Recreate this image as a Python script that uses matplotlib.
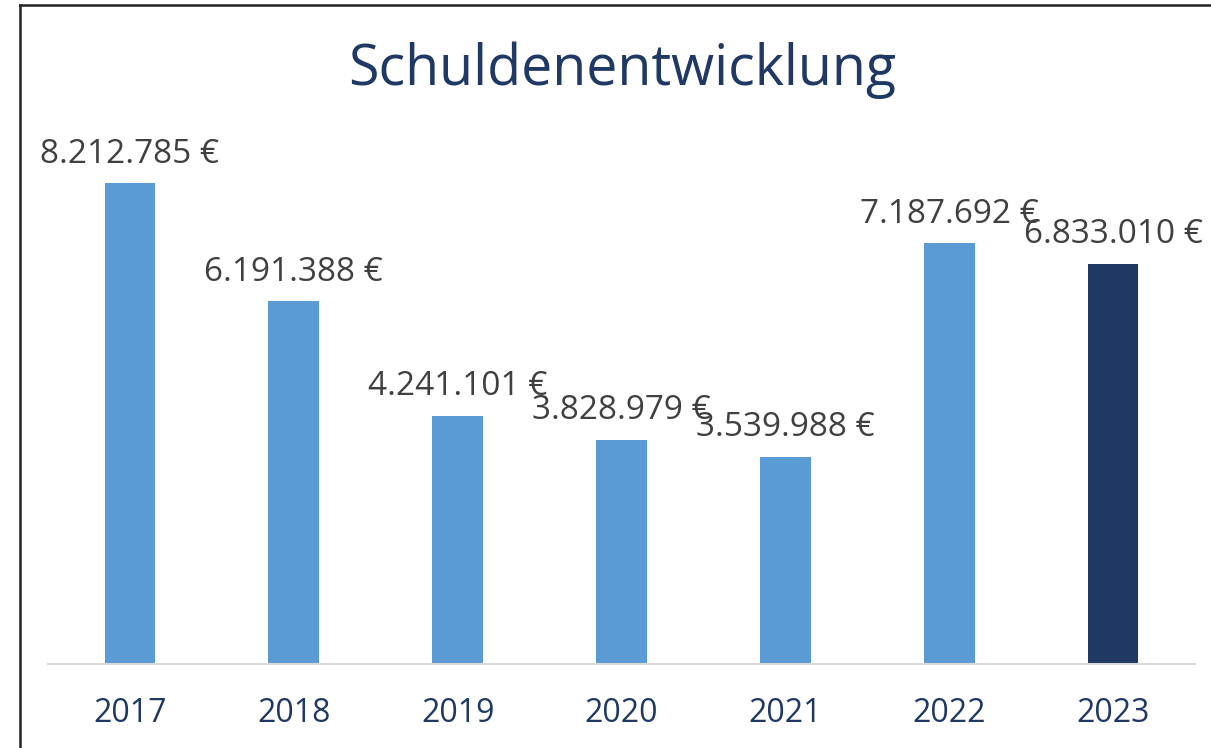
import matplotlib
matplotlib.use("Agg")
import matplotlib.pyplot as plt
from matplotlib.lines import Line2D

years = ["2017", "2018", "2019", "2020", "2021", "2022", "2023"]
schulden = [8212785, 6191388, 4241101, 3828979, 3539988, 7187692, 6833010]
farben = ["#5B9BD5"] * 6 + ["#203864"]

plt.rcParams['font.family'] = ['Open Sans', 'DejaVu Sans']

fig = plt.figure(figsize=(12.11, 7.48), dpi=100)
ax = fig.add_axes([48 / 1211, 1 - 664 / 748, (1195 - 48) / 1211, (664 - 137) / 748])

x = range(len(years))
bars = ax.bar(x, schulden, width=0.31, color=farben, zorder=2)

for b, v in zip(bars, schulden):
    txt = f"{v:,}".replace(",", ".") + " €"
    ax.annotate(txt, (b.get_x() + b.get_width() / 2, v), xytext=(0, 9),
                textcoords="offset points", ha="center", va="bottom",
                fontsize=24, color="#404040")

ax.set_xlim(-0.5, len(years) - 0.5)
ax.set_ylim(0, 9000000)
ax.set_xticks(list(x))
ax.set_xticklabels(years, fontsize=23, color="#1F3864")
ax.tick_params(axis="x", length=0, pad=24)
ax.set_yticks([])
for s in ["top", "right", "left"]:
    ax.spines[s].set_visible(False)
ax.spines["bottom"].set_color("#D9D9D9")
ax.spines["bottom"].set_linewidth(1.5)

fig.text(622 / 1211, 1 - 70 / 748, "Schuldenentwicklung", ha="center", va="center",
         fontsize=40, color="#1F3864")

# Rahmen (nur links und oben sichtbar)
fig.add_artist(Line2D([19.5 / 1211, 19.5 / 1211], [0, 1 - 5 / 748], color="#222222", lw=1.8))
fig.add_artist(Line2D([19.5 / 1211, 1], [1 - 5 / 748, 1 - 5 / 748], color="#222222", lw=1.8))

fig.savefig("out.png", dpi=100)
